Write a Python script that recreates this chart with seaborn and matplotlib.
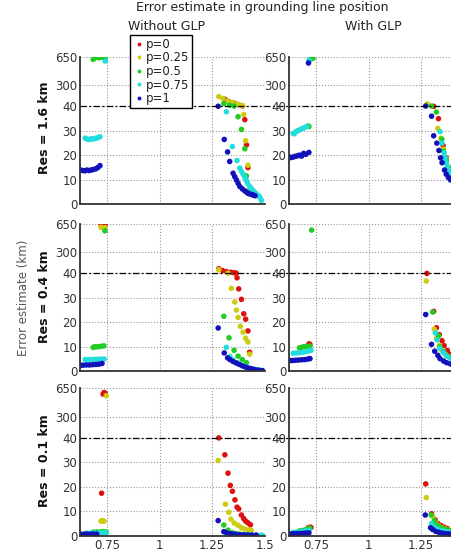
import numpy as np
import pandas as pd
import matplotlib
matplotlib.use('Agg')
import matplotlib.pyplot as plt
import seaborn as sns

# error estimate (km) vs parameter as (x, err) pairs
# Res = 1.6 km, without GLP
no16_p0 = [(1.31, 128), (1.33, 100), (1.355, 80), (1.375, 62), (1.395, 46), (1.406, 34.6),
           (1.414, 24.3), (1.421, 15), (1.43, 5.5)]
no16_p025 = [(1.282, 160), (1.302, 136), (1.326, 106), (1.35, 88), (1.374, 67), (1.395, 49),
             (1.401, 36.7), (1.41, 26), (1.421, 16), (1.425, 5.5)]
no16_p05 = [(0.683, 620), (0.69, 640), (0.70, 645), (0.71, 640), (0.72, 648), (0.73, 645), (0.74, 640),
            (1.306, 75), (1.334, 55), (1.355, 45), (1.374, 35.8), (1.39, 30.6), (1.406, 22.7),
            (1.414, 11.6), (1.43, 5)]
no16_p075 = [(0.645, 27), (0.655, 26.6), (0.665, 26.5), (0.675, 26.8), (0.685, 26.7), (0.695, 27),
             (0.705, 27.2), (0.715, 27.6), (0.74, 600),
             (1.318, 37.8), (1.347, 23.6), (1.369, 17.9), (1.382, 14.8), (1.39, 13.5), (1.398, 12.3),
             (1.406, 11), (1.414, 9.7), (1.42, 8.5), (1.429, 7.3), (1.437, 6.4), (1.445, 5.6),
             (1.452, 5), (1.46, 4.3), (1.47, 3.6), (1.477, 3), (1.485, 1.6)]
no16_p1 = [(0.623, 14), (0.633, 13.8), (0.643, 13.7), (0.653, 14), (0.663, 13.8), (0.673, 14),
           (0.683, 14.2), (0.695, 14.5), (0.705, 15), (0.715, 15.8),
           (1.279, 42), (1.308, 26.5), (1.324, 21.4), (1.334, 17.5), (1.35, 12.7), (1.358, 11.3),
           (1.366, 10), (1.374, 8.6), (1.382, 7.3), (1.394, 6.3), (1.406, 5.5), (1.414, 5),
           (1.421, 4.5), (1.43, 4.2), (1.44, 4), (1.448, 3.7), (1.455, 3.5)]

# Res = 1.6 km, with GLP
gl16_p0 = [(1.31, 41), (1.333, 35), (1.355, 24), (1.37, 19), (1.385, 15), (1.40, 12), (1.42, 9)]
gl16_p025 = [(1.28, 70), (1.33, 31), (1.345, 27), (1.357, 22.5), (1.37, 18.5), (1.385, 15), (1.40, 12)]
gl16_p05 = [(0.725, 625), (0.735, 635), (0.71, 32), (0.715, 31.8),
            (1.30, 44), (1.323, 37.7), (1.349, 26.6), (1.357, 21.7), (1.37, 18), (1.385, 14.5), (1.40, 11.5)]
gl16_p075 = [(0.64, 29), (0.645, 28.8), (0.655, 29.8), (0.665, 30.2), (0.675, 30.6), (0.685, 31),
             (0.695, 31.4), (0.705, 31.8), (0.715, 610),
             (1.34, 29.7), (1.35, 25), (1.36, 21), (1.365, 19), (1.37, 17), (1.375, 15.5), (1.38, 14),
             (1.39, 12.5), (1.40, 11)]
gl16_p1 = [(0.623, 19.3), (0.63, 19.1), (0.64, 19.3), (0.65, 19.6), (0.66, 19.8), (0.67, 20.1),
           (0.68, 19.7), (0.69, 20.8), (0.70, 20.4), (0.715, 21.2), (0.713, 575),
           (1.272, 45), (1.30, 36), (1.31, 28), (1.325, 25), (1.335, 22), (1.343, 19), (1.35, 17),
           (1.362, 14), (1.37, 12.3), (1.38, 11), (1.39, 10)]

# Res = 0.4 km, without GLP
no04_p0 = [(0.72, 650), (0.73, 650), (0.74, 648),
           (1.282, 97), (1.30, 75), (1.32, 62), (1.34, 55), (1.355, 48), (1.365, 44), (1.369, 38.2),
           (1.377, 33.7), (1.39, 29.4), (1.401, 23.5), (1.41, 21.3), (1.421, 16.5), (1.429, 7.8)]
no04_p025 = [(0.72, 610), (0.73, 600), (0.74, 605),
             (1.282, 85), (1.326, 44), (1.342, 33.9), (1.358, 28.3), (1.366, 25), (1.374, 22),
             (1.385, 18.4), (1.398, 16), (1.41, 13.5), (1.421, 12), (1.429, 7)]
no04_p05 = [(0.683, 9.8), (0.69, 10), (0.70, 10), (0.71, 10.1), (0.72, 10.2), (0.734, 10.4), (0.739, 565),
            (1.306, 22.5), (1.331, 13.7), (1.355, 8.6), (1.374, 6.2), (1.394, 4.8), (1.414, 3.5)]
no04_p075 = [(0.645, 4.8), (0.66, 4.8), (0.675, 4.8), (0.69, 4.9), (0.705, 4.9), (0.72, 5), (0.735, 5),
             (1.318, 9.8), (1.335, 6), (1.35, 4.6), (1.37, 3.5), (1.39, 2.5), (1.41, 1.8), (1.43, 1.2),
             (1.45, 0.8), (1.47, 0.5), (1.48, 0.4)]
no04_p1 = [(0.623, 2.5), (0.635, 2.5), (0.65, 2.6), (0.665, 2.6), (0.68, 2.7), (0.695, 2.8),
           (0.71, 2.9), (0.725, 3.2),
           (1.279, 17.7), (1.308, 7.5), (1.324, 5.5), (1.335, 4.8), (1.35, 4), (1.365, 3.4),
           (1.38, 2.8), (1.395, 2.2), (1.41, 1.7), (1.425, 1.3), (1.44, 1), (1.455, 0.7),
           (1.47, 0.5), (1.49, 0.3)]

# Res = 0.4 km, with GLP
gl04_p0 = [(0.715, 11.2), (0.72, 11),
           (1.278, 40), (1.31, 24.5), (1.323, 17.8), (1.337, 15), (1.35, 12.5), (1.36, 10.5),
           (1.375, 8.5), (1.384, 7), (1.40, 6)]
gl04_p025 = [(1.275, 36.9), (1.313, 17.2), (1.324, 13.5), (1.337, 10.5), (1.35, 8.5), (1.365, 7), (1.38, 6)]
gl04_p05 = [(0.67, 9.6), (0.68, 9.8), (0.69, 10), (0.70, 10), (0.71, 10.2), (0.72, 10.3), (0.728, 575),
            (1.305, 24.2), (1.334, 14.5), (1.34, 10), (1.357, 8), (1.372, 6.5), (1.39, 5.5)]
gl04_p075 = [(0.64, 7.4), (0.655, 7.5), (0.67, 7.6), (0.685, 7.8), (0.70, 8), (0.715, 8.3), (0.725, 8.6),
             (1.318, 15.7), (1.326, 12.8), (1.34, 9.4), (1.357, 7.6), (1.372, 6.2), (1.39, 5.3)]
gl04_p1 = [(0.623, 4.4), (0.635, 4.4), (0.65, 4.5), (0.665, 4.6), (0.68, 4.7), (0.695, 4.8),
           (0.71, 5), (0.72, 5.2),
           (1.272, 23.2), (1.30, 11), (1.315, 8.2), (1.33, 6.5), (1.34, 5.2), (1.357, 4.2),
           (1.372, 3.5), (1.39, 3)]

# Res = 0.1 km, without GLP
no01_p0 = [(0.73, 580), (0.735, 600), (0.74, 590), (0.723, 17.4),
           (1.282, 40.4), (1.311, 33.1), (1.326, 25.6), (1.337, 20.6), (1.347, 18.2), (1.359, 14.7),
           (1.369, 11.7), (1.377, 11), (1.39, 8.5), (1.401, 7), (1.41, 6), (1.421, 5.3), (1.433, 4.5)]
no01_p025 = [(0.745, 560), (0.72, 6), (0.725, 6.2), (0.73, 6.1), (0.735, 6),
             (1.279, 30.8), (1.314, 12.9), (1.33, 9.6), (1.34, 6.8), (1.356, 5.2), (1.374, 4.3),
             (1.39, 3.3), (1.406, 2.8), (1.421, 2.4), (1.437, 2.2)]
no01_p05 = [(0.685, 1.5), (0.70, 1.6), (0.715, 1.6), (0.73, 1.7), (0.745, 1.6),
            (1.306, 4.4), (1.326, 2.3), (1.35, 1.2), (1.37, 0.8), (1.39, 0.6), (1.41, 0.5), (1.43, 0.4)]
no01_p075 = [(0.65, 1.1), (0.67, 1.1), (0.69, 1.1), (0.71, 1.2), (0.73, 1.2), (0.745, 1.2),
             (1.318, 1.2), (1.34, 0.8), (1.36, 0.6), (1.38, 0.5), (1.40, 0.4), (1.42, 0.35),
             (1.44, 0.3), (1.46, 0.25), (1.48, 0.2), (1.49, 0.2)]
no01_p1 = [(0.623, 0.7), (0.64, 0.7), (0.655, 0.7), (0.67, 0.7), (0.685, 0.7), (0.70, 0.7),
           (1.279, 6.2), (1.306, 1.7), (1.32, 1.2), (1.34, 0.9), (1.36, 0.7), (1.38, 0.5),
           (1.40, 0.4), (1.42, 0.35), (1.44, 0.3), (1.46, 0.3)]

# Res = 0.1 km, with GLP
gl01_p0 = [(0.712, 3.3), (0.72, 3.5), (0.725, 3.4),
           (1.272, 21.2), (1.30, 9), (1.317, 6.5), (1.33, 5), (1.345, 4.2), (1.36, 3.5), (1.375, 3)]
gl01_p025 = [(0.715, 3),
             (1.275, 15.6), (1.305, 8), (1.32, 5.2), (1.335, 4), (1.35, 3.3), (1.365, 2.8), (1.38, 2.4)]
gl01_p05 = [(0.67, 2), (0.685, 2.2), (0.70, 2.5), (0.71, 2.8), (0.72, 3.1),
            (1.298, 8.5), (1.313, 6.2), (1.325, 4.5), (1.34, 3.5), (1.355, 3), (1.37, 2.5), (1.385, 2.2)]
gl01_p075 = [(0.64, 1.4), (0.655, 1.5), (0.67, 1.6), (0.685, 1.8), (0.70, 2), (0.715, 2.2),
             (1.30, 5), (1.315, 3.5), (1.33, 2.7), (1.345, 2.2), (1.36, 1.9), (1.375, 1.6), (1.39, 1.4)]
gl01_p1 = [(0.623, 0.8), (0.64, 0.85), (0.655, 0.9), (0.67, 0.95), (0.685, 1.0), (0.70, 1.1), (0.715, 1.2),
           (1.27, 8.5), (1.295, 3.3), (1.305, 2.6), (1.32, 1.8), (1.335, 1.4), (1.35, 1.1),
           (1.365, 0.9), (1.38, 0.8), (1.39, 0.7)]

p_labels = ['p=0', 'p=0.25', 'p=0.5', 'p=0.75', 'p=1']
p_colors = ['#dd1111', '#cccc11', '#22cc22', '#22dddd', '#1111bb']
res_labels = ['Res = 1.6 km', 'Res = 0.4 km', 'Res = 0.1 km']
col_titles = ['Without GLP', 'With GLP']
ytick_vals = [0, 10, 20, 30, 40, 300, 650]
xtick_vals = [0.75, 1, 1.25, 1.5]
xtick_labels = ['0.75', '1', '1.25', '1.5']
threshold = 40

panels = [
    [[no16_p0, no16_p025, no16_p05, no16_p075, no16_p1], [gl16_p0, gl16_p025, gl16_p05, gl16_p075, gl16_p1]],
    [[no04_p0, no04_p025, no04_p05, no04_p075, no04_p1], [gl04_p0, gl04_p025, gl04_p05, gl04_p075, gl04_p1]],
    [[no01_p0, no01_p025, no01_p05, no01_p075, no01_p1], [gl01_p0, gl01_p025, gl01_p05, gl01_p075, gl01_p1]],
]


def to_frame(series):
    rows = []
    for lab, pts in zip(p_labels, series):
        for x, y in pts:
            rows.append((x, y, lab))
    return pd.DataFrame(rows, columns=['x', 'err', 'p'])


# squashed axis above 40 km
knots_v = [-100, 0, 40, 300, 650, 2000]
knots_t = [-10, 0, 4, 4.87, 6.02, 6.02 + 1350 / 350 * 1.15]


def fwd(v):
    return np.interp(v, knots_v, knots_t)


def inv(t):
    return np.interp(t, knots_t, knots_v)


sns.set_style('white')
plt.rcParams['font.family'] = ['DejaVu Sans']

W, H = 452, 552
fig = plt.figure(figsize=(W / 100, H / 100), dpi=100)

col_left = [80, 289]
ax_w = 184.5
row_top = [57, 224, 388.5]
ax_h = 147.3
palette = dict(zip(p_labels, p_colors))

for r in range(3):
    for c in range(2):
        ax = fig.add_axes([col_left[c] / W, 1 - (row_top[r] + ax_h) / H, ax_w / W, ax_h / H])
        df = to_frame(panels[r][c])
        sns.scatterplot(data=df, x='x', y='err', hue='p', hue_order=p_labels, palette=palette,
                        s=16, linewidth=0, edgecolor='none', ax=ax,
                        legend=(r == 0 and c == 0))
        ax.set_yscale('function', functions=(fwd, inv))
        ax.set_ylim(0, 650)
        ax.set_xlim(0.62, 1.5)
        ax.set_yticks(ytick_vals)
        ax.set_yticklabels([str(v) for v in ytick_vals])
        ax.set_xticks(xtick_vals)
        if r == 2:
            # right column runs past the page edge, so its 1.5 label is not shown
            ax.set_xticklabels(xtick_labels if c == 0 else xtick_labels[:-1] + [''])
        else:
            ax.set_xticklabels([])
        ax.set_xlabel('')
        ax.set_ylabel('')
        ax.grid(True, linestyle=':', color='#999999', linewidth=0.8)
        ax.tick_params(labelsize=8.5, labelcolor='#333333', direction='in', length=2.5,
                       color='#555555', pad=2)
        for s in ['top', 'right']:
            ax.spines[s].set_visible(False)
        for s in ['left', 'bottom']:
            ax.spines[s].set_color('#333333')
            ax.spines[s].set_linewidth(1.3)
        xmax = (col_left[1] - col_left[0]) / ax_w + 0.02 if c == 0 else 1.2
        ax.axhline(threshold, xmin=0, xmax=xmax, color='black', linewidth=0.9,
                   dashes=(5, 2, 1.5, 2), clip_on=False, zorder=1)
        if r == 0 and c == 0:
            leg = ax.legend(loc='upper left', bbox_to_anchor=(0.271, 1.15), borderaxespad=0,
                            fontsize=8.5, markerscale=0.7, handletextpad=0.1, handlelength=1.0,
                            labelspacing=0.05, borderpad=0.25, fancybox=False, framealpha=1)
            leg.get_frame().set_edgecolor('black')
            leg.get_frame().set_linewidth(1.0)
            for t in leg.get_texts():
                t.set_color('#222222')

row_center = [128, 297, 461]
for r in range(3):
    fig.text(45 / W, 1 - row_center[r] / H, res_labels[r], rotation=90, fontsize=9,
             fontweight='bold', ha='center', va='center', color='#111111')

fig.text(24 / W, 1 - 298 / H, 'Error estimate (km)', rotation=90, fontsize=8.5,
         ha='center', va='center', color='#555555')
fig.text(262 / W, 1 - 8 / H, 'Error estimate in grounding line position', fontsize=9,
         ha='center', va='center', color='#222222')
fig.text(166 / W, 1 - 27 / H, col_titles[0], fontsize=9, ha='center', va='center', color='#222222')
fig.text(373 / W, 1 - 27 / H, col_titles[1], fontsize=9, ha='center', va='center', color='#222222')

fig.savefig('out.png', dpi=100)
